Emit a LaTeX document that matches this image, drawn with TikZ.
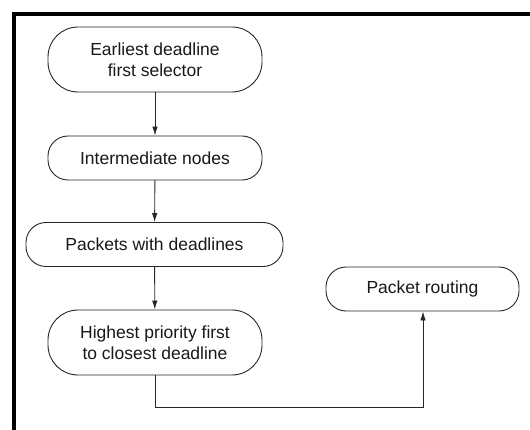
\documentclass[tikz,border=0pt]{standalone}
\usepackage{fontspec}
\setmainfont{Liberation Sans}
\usetikzlibrary{arrows.meta}
\begin{document}
\begin{tikzpicture}[x=1pt,y=-1pt,
  pill/.style={draw=black!85, line width=0.9pt, fill=white, align=center,
    inner sep=0pt, font=\fontsize{17.5}{21}\selectfont, text=black!90},
  tall/.style={pill, minimum width=214pt, minimum height=65pt, rounded corners=30pt},
  short/.style={pill, minimum height=44pt, rounded corners=20pt},
  flow/.style={draw=black!85, line width=0.9pt, -{Latex[length=9pt,width=5.5pt]}}]
  \useasboundingbox (0,0) rectangle (530,430);
  % thick frame along the top and left edges
  \draw[line width=4pt] (14,430) -- (14,14) -- (530,14);

  \node[tall] (sel) at (155,59.5) {Earliest deadline\\first selector};
  \node[short, minimum width=214pt] (mid) at (155,158) {Intermediate nodes};
  \node[short, minimum width=257pt] (pkt) at (154.5,244.5) {Packets with deadlines};
  \node[tall] (hp) at (155,342.5) {Highest priority first\\to closest deadline};
  \node[short, minimum width=193pt] (rt) at (422.5,289) {Packet routing};

  \coordinate (c1) at (155,407);
  \coordinate (c2) at (423,407);

  \draw[flow] (sel) -- (mid);
  \draw[flow] (mid) -- (pkt);
  \draw[flow] (pkt) -- (hp);
  \draw[flow] (hp.south) -- (c1) -- (c2) -- (rt.south -| c2);
\end{tikzpicture}
\end{document}
